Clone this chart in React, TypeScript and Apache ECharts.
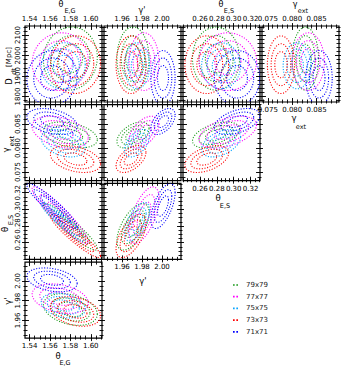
import React, { useEffect, useRef } from "react";
import * as echarts from "echarts";

// ---------- data ----------
const runs = ["79x79", "77x77", "75x75", "73x73", "71x71"];
const runColors = ["#1c9a1c", "#ff00ff", "#0aa5ff", "#ff0000", "#0000ff"];

// posterior means per run
const meanD = [1985, 1970, 1950, 1955, 1890];
const meanG = [1.58, 1.57, 1.573, 1.585, 1.562];
const meanP = [1.971, 1.982, 1.975, 1.969, 2.001];
const meanS = [0.279, 0.293, 0.285, 0.268, 0.304];
const meanX = [0.0827, 0.0833, 0.081, 0.0777, 0.0855];

// posterior widths per run
const sdD = [70, 64, 51, 64, 61];
const sdG = [0.012, 0.0125, 0.0098, 0.0112, 0.0112];
const sdP = [0.0073, 0.0068, 0.0057, 0.0068, 0.0055];
const sdS = [0.0127, 0.0155, 0.0105, 0.0118, 0.0123];
const sdX = [0.00123, 0.0015, 0.0013, 0.00127, 0.00123];

// pairwise correlations
const rhoGD = 0.05;
const rhoPD = 0.0;
const rhoSD = 0.0;
const rhoXD = 0.0;
const rhoGX = -0.35;
const rhoPX = 0.5;
const rhoSX = 0.45;
const rhoGS = -0.93;
const rhoPS = 0.6;
const rhoGP = -0.3;

const contourLevels = [1.0, 1.6, 2.2];

// tick labels
const ticksG = [1.54, 1.56, 1.58, 1.6];
const ticksP = [1.96, 1.98, 2.0];
const ticksS = [0.26, 0.28, 0.3, 0.32];
const ticksX = [0.075, 0.08, 0.085];
const ticksD = [1800, 1900, 2000, 2100];

// ---------- layout ----------
const spec: any = {
  G: { mean: meanG, sd: sdG, ticks: ticksG, minor: 0.005, dec: 2, range: [1.5355, 1.611] },
  P: { mean: meanP, sd: sdP, ticks: ticksP, minor: 0.005, dec: 2, range: [1.942, 2.019] },
  S: { mean: meanS, sd: sdS, ticks: ticksS, minor: 0.005, dec: 2, range: [0.2398, 0.3312] },
  X: { mean: meanX, sd: sdX, ticks: ticksX, minor: 0.001, dec: 3, range: [0.0738, 0.0896], rowRange: [0.0732, 0.089] },
  D: { mean: meanD, sd: sdD, ticks: ticksD, minor: 20, dec: 0, range: [1773, 2144] },
};

const panels = [
  { row: 0, col: 0, x: "G", y: "D", rho: rhoGD, top: true, left: true },
  { row: 0, col: 1, x: "P", y: "D", rho: rhoPD, top: true },
  { row: 0, col: 2, x: "S", y: "D", rho: rhoSD, top: true },
  { row: 0, col: 3, x: "X", y: "D", rho: rhoXD, top: true, bottom: true },
  { row: 1, col: 0, x: "G", y: "X", rho: rhoGX, left: true },
  { row: 1, col: 1, x: "P", y: "X", rho: rhoPX },
  { row: 1, col: 2, x: "S", y: "X", rho: rhoSX, bottom: true },
  { row: 2, col: 0, x: "G", y: "S", rho: rhoGS, left: true },
  { row: 2, col: 1, x: "P", y: "S", rho: rhoPS, bottom: true },
  { row: 3, col: 0, x: "G", y: "P", rho: rhoGP, left: true, bottom: true },
];

const nameTexts: any[] = [
  { t: "θ", x: 61, y: 4.8, s: 8 }, { t: "E,G", x: 70, y: 11, s: 6.5 },
  { t: "γ'", x: 142, y: 10.5, s: 8 },
  { t: "θ", x: 221, y: 4.8, s: 8 }, { t: "E,S", x: 229, y: 11, s: 6.5 },
  { t: "γ", x: 295, y: 4.8, s: 8 }, { t: "ext", x: 303, y: 11, s: 6.5 },
  { t: "θ", x: 58, y: 355.5, s: 8.5 }, { t: "E,G", x: 65, y: 362.5, s: 6.5 },
  { t: "γ'", x: 143, y: 281, s: 8.5 },
  { t: "θ", x: 218, y: 198, s: 8.5 }, { t: "E,S", x: 225, y: 205.5, s: 6.5 },
  { t: "γ", x: 294, y: 118, s: 8.5 }, { t: "ext", x: 301, y: 127, s: 6.5 },
  { t: "D", x: 9, y: 81.5, s: 8, r: 1 }, { t: "dt", x: 14, y: 71.5, s: 6.5, r: 1 }, { t: "[Mpc]", x: 9, y: 57, s: 7, r: 1 },
  { t: "γ", x: 5.5, y: 150, s: 8.5, r: 1 }, { t: "ext", x: 12, y: 141, s: 6.5, r: 1 },
  { t: "θ", x: 4.8, y: 229.5, s: 8.5, r: 1 }, { t: "E,S", x: 10.5, y: 220, s: 6.5, r: 1 },
  { t: "γ'", x: 7.5, y: 301, s: 8.5, r: 1 },
];

const FONT = "DejaVu Sans";

function minorValues(range: number[], step: number) {
  const out: number[] = [];
  const a = Math.ceil(range[0] / step - 1e-9);
  const b = Math.floor(range[1] / step + 1e-9);
  for (let k = a; k <= b; k++) out.push(Math.round(k * step * 1e7) / 1e7);
  return out;
}

function makeAxis(dim: string, gi: number, position: string, sp: any, range: number[], major: boolean, label: any) {
  const out = major ? 3 : 1.5;
  const inn = major ? 4 : 2.5;
  const values = major ? sp.ticks : minorValues(range, sp.minor);
  return {
    type: "value",
    gridIndex: gi,
    position,
    min: range[0],
    max: range[1],
    offset: out,
    axisLine: { show: false, onZero: false },
    splitLine: { show: false },
    minorTick: { show: false },
    axisTick: {
      show: true,
      inside: true,
      length: out + inn,
      customValues: values,
      lineStyle: { color: "#000", width: 0.9 },
    },
    axisLabel: label
      ? {
          show: true,
          customValues: sp.ticks,
          formatter: (v: number) => v.toFixed(sp.dec),
          margin: label.margin,
          fontSize: 7,
          fontFamily: FONT,
          color: "#000",
          rotate: dim === "y" ? 90 : 0,
        }
      : { show: false },
  };
}

export default function App() {
  const ref = useRef<HTMLDivElement>(null);
  useEffect(() => {
    if (!ref.current) return;
    const chart = echarts.init(ref.current, null, { renderer: "svg" });
    const grids: any[] = [];
    const xAxes: any[] = [];
    const yAxes: any[] = [];
    const series: any[] = [];

    panels.forEach((pn: any, gi) => {
      const left = 25 + 79 * pn.col;
      const top = 26 + 78.7 * pn.row;
      grids.push({ left, top, width: 77, height: 76, show: true, borderColor: "#000", borderWidth: 1.2, backgroundColor: "transparent" });
      const xs = spec[pn.x];
      const ys = spec[pn.y];
      const xr = xs.range;
      const yr = pn.y === "X" ? ys.rowRange : ys.range;
      const xMain = xAxes.length;
      xAxes.push(makeAxis("x", gi, "bottom", xs, xr, true, pn.bottom ? { margin: 1.5 } : null));
      xAxes.push(makeAxis("x", gi, "bottom", xs, xr, false, null));
      xAxes.push(makeAxis("x", gi, "top", xs, xr, true, pn.top ? { margin: 0.5 } : null));
      xAxes.push(makeAxis("x", gi, "top", xs, xr, false, null));
      const yMain = yAxes.length;
      yAxes.push(makeAxis("y", gi, "left", ys, yr, true, pn.left ? { margin: 1 } : null));
      yAxes.push(makeAxis("y", gi, "left", ys, yr, false, null));
      yAxes.push(makeAxis("y", gi, "right", ys, yr, true, null));
      yAxes.push(makeAxis("y", gi, "right", ys, yr, false, null));

      runs.forEach((name, k) => {
        const color = runColors[k];
        series.push({
          type: "custom",
          name,
          xAxisIndex: xMain,
          yAxisIndex: yMain,
          clip: true,
          silent: true,
          itemStyle: { color },
          data: contourLevels.map((r) => [xs.mean[k], ys.mean[k], xs.sd[k], ys.sd[k], pn.rho, r]),
          renderItem: (params: any, api: any) => {
            const mx = api.value(0), my = api.value(1), sx = api.value(2), sy = api.value(3), rho = api.value(4), r = api.value(5);
            const q = Math.sqrt(1 - rho * rho);
            const pts: number[][] = [];
            const n = 90;
            for (let i = 0; i < n; i++) {
              const t = (i / n) * Math.PI * 2;
              pts.push(api.coord([mx + r * sx * Math.cos(t), my + r * sy * (rho * Math.cos(t) + q * Math.sin(t))]));
            }
            return {
              type: "polygon",
              shape: { points: pts },
              style: { fill: "none", stroke: color, lineWidth: 1.1, lineDash: [1.1, 1.6] },
            };
          },
        });
      });
    });

    const graphics = nameTexts.map((g) => ({
      type: "text",
      x: g.x,
      y: g.y,
      rotation: g.r ? Math.PI / 2 : 0,
      style: { text: g.t, fontSize: g.s, fontFamily: FONT, fill: "#000", align: "center", verticalAlign: "middle" },
    }));

    chart.setOption({
      animation: false,
      grid: grids,
      xAxis: xAxes,
      yAxis: yAxes,
      series,
      graphic: graphics,
      legend: {
        orient: "vertical",
        left: 233,
        top: 281,
        padding: 0,
        itemWidth: 5,
        itemHeight: 2,
        itemGap: 3.7,
        selectedMode: false,
        data: runs.map((n, k) => ({ name: n, icon: "path://M0,0h2v2h-2z M4,0h2v2h-2z", itemStyle: { color: runColors[k] } })),
        textStyle: { fontSize: 7, fontFamily: FONT, color: "#222", padding: [0, 0, 0, 3], lineHeight: 8 },
      },
    });
    return () => chart.dispose();
  }, []);
  return <div ref={ref} style={{ position: "absolute", left: 0, top: 0, width: 341, height: 366 }} />;
}
